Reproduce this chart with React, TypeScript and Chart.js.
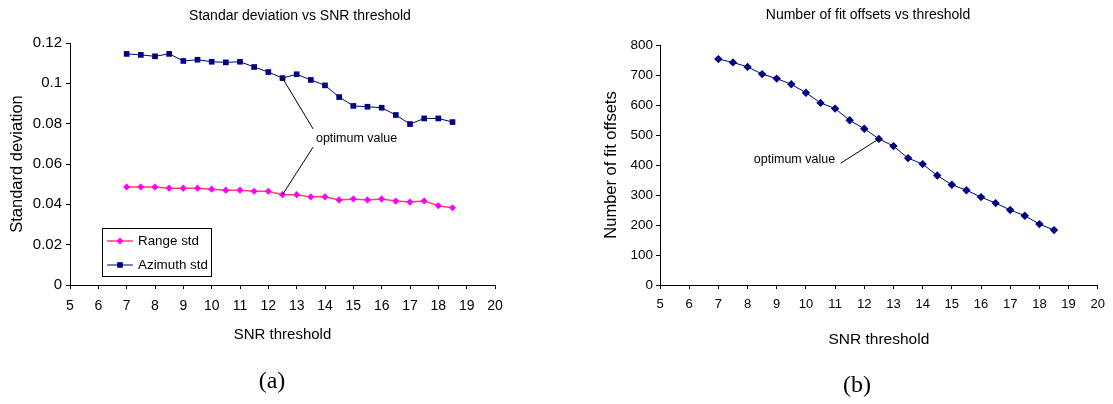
import React, { useEffect, useRef } from 'react';
import { Chart, registerables } from 'chart.js';

Chart.register(...registerables);

// ---------- data ----------
const thresholds = [7, 7.5, 8, 8.5, 9, 9.5, 10, 10.5, 11, 11.5, 12, 12.5, 13, 13.5, 14, 14.5, 15, 15.5, 16, 16.5, 17, 17.5, 18, 18.5];
const rangeStd = [0.0486, 0.0486, 0.0486, 0.048, 0.048, 0.048, 0.0475, 0.047, 0.047, 0.0465, 0.0465, 0.0448, 0.0448, 0.0437, 0.0437, 0.0422, 0.0427, 0.0422, 0.0427, 0.0416, 0.0411, 0.0417, 0.0393, 0.0383];
const azimuthStd = [0.1146, 0.1141, 0.1134, 0.1146, 0.1111, 0.1117, 0.1107, 0.1104, 0.1107, 0.1081, 0.1056, 0.1026, 0.1045, 0.1017, 0.099, 0.0932, 0.0888, 0.0884, 0.0879, 0.0843, 0.0798, 0.0826, 0.0826, 0.0808];
const fitOffsets = [753, 742, 727, 703, 688, 669, 641, 607, 588, 549, 521, 487, 463, 423, 403, 365, 334, 316, 293, 273, 250, 231, 203, 183];
const optimumThreshold = 12.5;

const seriesNames = ['Range std', 'Azimuth std'];
const leftTitle = 'Standar deviation vs SNR threshold';
const rightTitle = 'Number of fit offsets vs threshold';
const xAxisTitle = 'SNR threshold';
const leftYTitle = 'Standard deviation';
const rightYTitle = 'Number of fit offsets';
const annotationText = 'optimum value';
const captions = ['(a)', '(b)'];

const xMin = 5, xMax = 20, xStep = 1;
const leftYMin = 0, leftYMax = 0.12, leftYStep = 0.02;
const rightYMin = 0, rightYMax = 800, rightYStep = 100;

// ---------- style ----------
const SANS = "'Liberation Sans', Arial, sans-serif";
const SERIF = "'Liberation Serif', 'Times New Roman', serif";
const NAVY = '#000080';
const MAGENTA = '#FF00FF';
const RANGE_LINE = 'rgb(255,64,96)';

const toXY = (ys: number[]) => thresholds.map((x, i) => ({ x, y: ys[i] }));

function diamond(ctx: CanvasRenderingContext2D, x: number, y: number, r: number, color: string) {
  ctx.beginPath();
  ctx.moveTo(x, y - r);
  ctx.lineTo(x + r, y);
  ctx.lineTo(x, y + r);
  ctx.lineTo(x - r, y);
  ctx.closePath();
  ctx.fillStyle = color;
  ctx.fill();
}
function square(ctx: CanvasRenderingContext2D, x: number, y: number, h: number, color: string) {
  ctx.fillStyle = color;
  ctx.fillRect(x - h, y - h, 2 * h, 2 * h);
}

function axisCommon(fontSize: number, pad: number) {
  return {
    grid: { display: true, drawOnChartArea: false, drawTicks: true, tickLength: 4, color: '#000', lineWidth: 1 },
    border: { display: true, color: '#000', width: 1 },
    ticks: { color: '#000', font: { family: SANS, size: fontSize }, padding: pad },
  };
}

const leftDecor = {
  id: 'leftDecor',
  afterDraw(chart: any) {
    const { ctx, scales } = chart;
    const x = scales.x, y = scales.y;
    ctx.save();
    ctx.fillStyle = '#000';
    ctx.textAlign = 'center';
    ctx.textBaseline = 'middle';
    ctx.font = `14px ${SANS}`;
    ctx.fillText(leftTitle, 300, 16);
    ctx.font = `24px ${SERIF}`;
    ctx.fillText(captions[0], 272, 382);

    // annotation
    const i = thresholds.indexOf(optimumThreshold);
    ctx.font = `12.5px ${SANS}`;
    ctx.textAlign = 'left';
    ctx.fillText(annotationText, x.getPixelForValue(13.68), y.getPixelForValue(0.0724));
    ctx.strokeStyle = '#000';
    ctx.lineWidth = 1;
    ctx.beginPath();
    ctx.moveTo(x.getPixelForValue(13.58), y.getPixelForValue(0.0774));
    ctx.lineTo(x.getPixelForValue(optimumThreshold), y.getPixelForValue(azimuthStd[i]));
    ctx.moveTo(x.getPixelForValue(13.58), y.getPixelForValue(0.0684));
    ctx.lineTo(x.getPixelForValue(optimumThreshold), y.getPixelForValue(rangeStd[i]));
    ctx.stroke();

    // legend
    const bx = 102, by = 228, bw = 109, bh = 48;
    ctx.fillStyle = '#fff';
    ctx.fillRect(bx, by, bw, bh);
    ctx.strokeStyle = '#000';
    ctx.strokeRect(bx + 0.5, by + 0.5, bw, bh);
    const rows = [by + 13, by + 37];
    ctx.font = `13.4px ${SANS}`;
    ctx.textAlign = 'left';
    ctx.textBaseline = 'middle';
    // range
    ctx.strokeStyle = RANGE_LINE;
    ctx.lineWidth = 1.5;
    ctx.beginPath();
    ctx.moveTo(bx + 5, rows[0]);
    ctx.lineTo(bx + 31, rows[0]);
    ctx.stroke();
    diamond(ctx, bx + 18, rows[0], 3.6, MAGENTA);
    // azimuth
    ctx.strokeStyle = NAVY;
    ctx.lineWidth = 1;
    ctx.beginPath();
    ctx.moveTo(bx + 5, rows[1]);
    ctx.lineTo(bx + 31, rows[1]);
    ctx.stroke();
    square(ctx, bx + 18, rows[1], 2.8, NAVY);
    ctx.fillStyle = '#000';
    ctx.fillText(seriesNames[0], bx + 36, rows[0]);
    ctx.fillText(seriesNames[1], bx + 36, rows[1]);
    ctx.restore();
  },
};

const rightDecor = {
  id: 'rightDecor',
  afterDraw(chart: any) {
    const { ctx, scales } = chart;
    const x = scales.x, y = scales.y;
    ctx.save();
    ctx.fillStyle = '#000';
    ctx.textAlign = 'center';
    ctx.textBaseline = 'middle';
    ctx.font = `14px ${SANS}`;
    ctx.fillText(rightTitle, 868 - 556, 15);
    ctx.font = `24px ${SERIF}`;
    ctx.fillText(captions[1], 857 - 556, 386);

    const i = thresholds.indexOf(optimumThreshold);
    ctx.font = `12.5px ${SANS}`;
    ctx.textAlign = 'right';
    ctx.fillText(annotationText, x.getPixelForValue(11.0), y.getPixelForValue(417));
    ctx.strokeStyle = '#000';
    ctx.lineWidth = 1;
    ctx.beginPath();
    ctx.moveTo(x.getPixelForValue(11.19), y.getPixelForValue(406));
    ctx.lineTo(x.getPixelForValue(optimumThreshold), y.getPixelForValue(fitOffsets[i]));
    ctx.stroke();
    ctx.restore();
  },
};

function LeftChart() {
  const ref = useRef<HTMLCanvasElement>(null);
  useEffect(() => {
    const chart = new Chart(ref.current as HTMLCanvasElement, {
      type: 'line',
      data: {
        datasets: [
          {
            label: seriesNames[0],
            data: toXY(rangeStd),
            borderColor: RANGE_LINE,
            borderWidth: 1.5,
            pointStyle: 'rectRot',
            pointRadius: 3.6,
            pointBackgroundColor: MAGENTA,
            pointBorderColor: MAGENTA,
            pointBorderWidth: 0,
            tension: 0,
          },
          {
            label: seriesNames[1],
            data: toXY(azimuthStd),
            borderColor: NAVY,
            borderWidth: 1,
            pointStyle: 'rect',
            pointRadius: 4,
            pointBackgroundColor: NAVY,
            pointBorderColor: NAVY,
            pointBorderWidth: 0,
            tension: 0,
          },
        ],
      },
      options: {
        responsive: false,
        animation: false,
        layout: { padding: { left: 0, top: 43, right: 61, bottom: 0 } },
        plugins: { legend: { display: false }, tooltip: { enabled: false }, title: { display: false } },
        scales: {
          x: {
            type: 'linear',
            min: xMin,
            max: xMax,
            ...axisCommon(14, 9),
            ticks: { ...axisCommon(14, 9).ticks, stepSize: xStep },
            title: { display: true, text: xAxisTitle, color: '#000', font: { family: SANS, size: 15 }, padding: { top: 0, bottom: 60 } },
            afterFit: (s: any) => { s.height = 119; },
          },
          y: {
            type: 'linear',
            min: leftYMin,
            max: leftYMax,
            ...axisCommon(15, 4),
            ticks: {
              ...axisCommon(15, 4).ticks,
              stepSize: leftYStep,
              callback: (v: any) => String(Number(Number(v).toFixed(2))),
            },
            title: { display: true, text: leftYTitle, color: '#000', font: { family: SANS, size: 16.5 }, padding: { top: 8, bottom: 0 } },
            afterFit: (s: any) => { s.width = 70; },
          },
        },
      },
      plugins: [leftDecor],
    } as any);
    return () => chart.destroy();
  }, []);
  return <canvas ref={ref} width={556} height={404} style={{ position: 'absolute', left: 0, top: 0 }} />;
}

function RightChart() {
  const ref = useRef<HTMLCanvasElement>(null);
  useEffect(() => {
    const chart = new Chart(ref.current as HTMLCanvasElement, {
      type: 'line',
      data: {
        datasets: [
          {
            label: rightYTitle,
            data: toXY(fitOffsets),
            borderColor: NAVY,
            borderWidth: 1,
            pointStyle: 'rectRot',
            pointRadius: 4.2,
            pointBackgroundColor: NAVY,
            pointBorderColor: NAVY,
            pointBorderWidth: 0,
            tension: 0,
          },
        ],
      },
      options: {
        responsive: false,
        animation: false,
        layout: { padding: { left: 0, top: 45, right: 13, bottom: 0 } },
        plugins: { legend: { display: false }, tooltip: { enabled: false }, title: { display: false } },
        scales: {
          x: {
            type: 'linear',
            min: xMin,
            max: xMax,
            ...axisCommon(13, 8),
            ticks: { ...axisCommon(13, 8).ticks, stepSize: xStep },
            title: { display: true, text: xAxisTitle, color: '#000', font: { family: SANS, size: 15.5 }, padding: { top: 0, bottom: 55 } },
            afterFit: (s: any) => { s.height = 119; },
          },
          y: {
            type: 'linear',
            min: rightYMin,
            max: rightYMax,
            ...axisCommon(13.5, 3),
            ticks: { ...axisCommon(13.5, 3).ticks, stepSize: rightYStep },
            title: { display: true, text: rightYTitle, color: '#000', font: { family: SANS, size: 16.5 }, padding: { top: 46, bottom: 0 } },
            afterFit: (s: any) => { s.width = 104; },
          },
        },
      },
      plugins: [rightDecor],
    } as any);
    return () => chart.destroy();
  }, []);
  return <canvas ref={ref} width={557} height={404} style={{ position: 'absolute', left: 556, top: 0 }} />;
}

export default function App() {
  return (
    <div style={{ position: 'absolute', left: 0, top: 0, width: 1113, height: 404, background: '#fff', overflow: 'hidden' }}>
      <LeftChart />
      <RightChart />
    </div>
  );
}
